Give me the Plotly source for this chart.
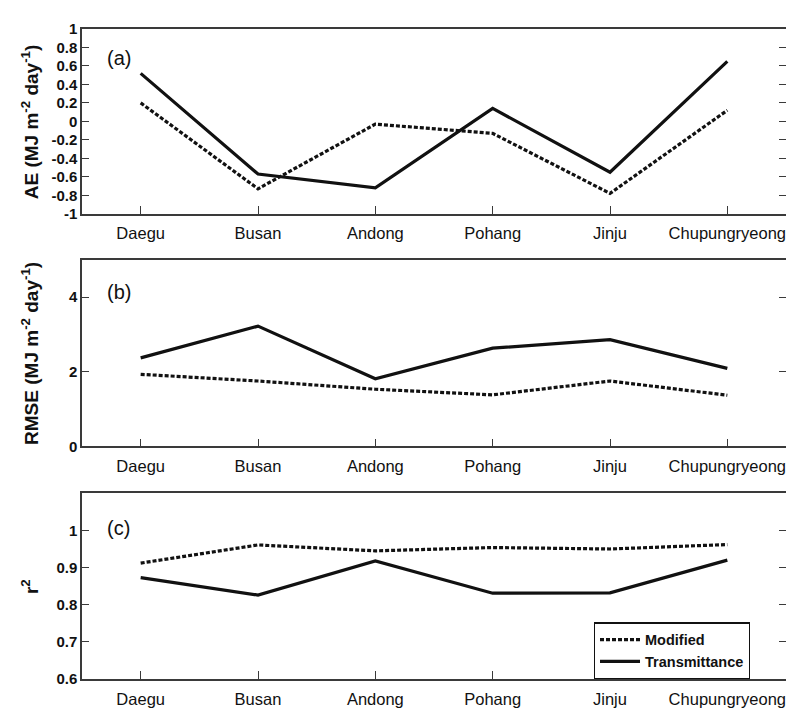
import plotly.graph_objects as go

stations = ["Daegu", "Busan", "Andong", "Pohang", "Jinju", "Chupungryeong"]

ae_modified = [0.20, -0.73, -0.03, -0.13, -0.78, 0.12]
ae_transmittance = [0.52, -0.57, -0.72, 0.14, -0.55, 0.65]

rmse_modified = [1.93, 1.75, 1.53, 1.38, 1.75, 1.37]
rmse_transmittance = [2.37, 3.22, 1.81, 2.63, 2.86, 2.09]

r2_modified = [0.912, 0.961, 0.945, 0.954, 0.950, 0.962]
r2_transmittance = [0.873, 0.826, 0.918, 0.831, 0.832, 0.920]

ae_ticks = [1, 0.8, 0.6, 0.4, 0.2, 0, -0.2, -0.4, -0.6, -0.8, -1]
ae_ticktext = ["1", "0.8", "0.6", "0.4", "0.2", "0", "-0.2", "-0.4", "-0.6", "-0.8", "-1"]
rmse_ticks = [0, 2, 4]
r2_ticks = [0.6, 0.7, 0.8, 0.9, 1]
r2_ticktext = ["0.6", "0.7", "0.8", "0.9", "1"]

FONT = "Liberation Sans, Arial, sans-serif"
LINE_COLOR = "#111111"
AXIS_COLOR = "#3a3a3a"
DASH = "4px,2px"

fig = go.Figure()

panels = [
    (ae_modified, ae_transmittance, "x", "y"),
    (rmse_modified, rmse_transmittance, "x2", "y2"),
    (r2_modified, r2_transmittance, "x3", "y3"),
]
for i, (mod, tra, xa, ya) in enumerate(panels):
    fig.add_trace(go.Scatter(x=list(range(len(stations))), y=mod, mode="lines",
                             line=dict(color=LINE_COLOR, width=3.2, dash=DASH),
                             name="Modified", showlegend=(i == 2), xaxis=xa, yaxis=ya))
    fig.add_trace(go.Scatter(x=list(range(len(stations))), y=tra, mode="lines",
                             line=dict(color=LINE_COLOR, width=3.2),
                             name="Transmittance", showlegend=(i == 2), xaxis=xa, yaxis=ya))

domains = [[0.7158, 1.0], [0.3579, 0.6451], [0.0, 0.2857]]

xcommon = dict(range=[-0.5, 5.5], tickvals=list(range(len(stations))), ticktext=stations,
               ticks="inside", ticklen=8, tickcolor=AXIS_COLOR, tickwidth=1,
               showline=True, linecolor=AXIS_COLOR, linewidth=1.5, mirror=True,
               showgrid=False, zeroline=False, ticklabelstandoff=4,
               tickfont=dict(family=FONT, size=16.5, color="#111"))
ycommon = dict(ticks="inside", ticklen=7, tickcolor=AXIS_COLOR, tickwidth=1,
               showline=True, linecolor=AXIS_COLOR, linewidth=1.5, mirror="ticks",
               showgrid=False, zeroline=False,
               tickfont=dict(family=FONT, size=15, color="#111", weight="bold"))

fig.update_layout(
    xaxis=dict(xcommon, anchor="y", domain=[0, 1]),
    xaxis2=dict(xcommon, anchor="y2", domain=[0, 1]),
    xaxis3=dict(xcommon, anchor="y3", domain=[0, 1]),
    yaxis=dict(ycommon, anchor="x", domain=domains[0], range=[-1, 1],
               tickvals=ae_ticks, ticktext=ae_ticktext),
    yaxis2=dict(ycommon, anchor="x2", domain=domains[1], range=[0, 5],
                tickvals=rmse_ticks),
    yaxis3=dict(ycommon, anchor="x3", domain=domains[2], range=[0.6, 1.1],
                tickvals=r2_ticks, ticktext=r2_ticktext),
)

titles = [
    ("AE (MJ m<sup>-2</sup> day<sup>-1</sup>)", "y domain"),
    ("RMSE (MJ m<sup>-2</sup> day<sup>-1</sup>)", "y2 domain"),
    ("r<sup>2</sup>", "y3 domain"),
]
for text, yref in titles:
    fig.add_annotation(text=text, xref="paper", yref=yref, x=-0.074, y=0.5,
                       xanchor="center", yanchor="middle", textangle=-90, showarrow=False,
                       font=dict(family=FONT, size=19, color="#111", weight="bold"))

for lab, xr, yr, yy in [("(a)", "x domain", "y domain", 0.841),
                        ("(b)", "x2 domain", "y2 domain", 0.826),
                        ("(c)", "x3 domain", "y3 domain", 0.814)]:
    fig.add_annotation(text=lab, xref=xr, yref=yr, x=0.033, y=yy,
                       xanchor="left", yanchor="middle", showarrow=False,
                       font=dict(family=FONT, size=20, color="#111"))

fig.update_layout(
    width=794, height=712,
    margin=dict(l=74, r=16, t=12, b=37),
    paper_bgcolor="white", plot_bgcolor="white",
    showlegend=True,
    legend=dict(x=0.727, y=0.087, xanchor="left", yanchor="top",
                bordercolor="#111", borderwidth=1.2, bgcolor="white",
                font=dict(family=FONT, size=14.5, color="#111", weight="bold"),
                itemwidth=40, tracegroupgap=0),
)

fig.write_html("out.html")
